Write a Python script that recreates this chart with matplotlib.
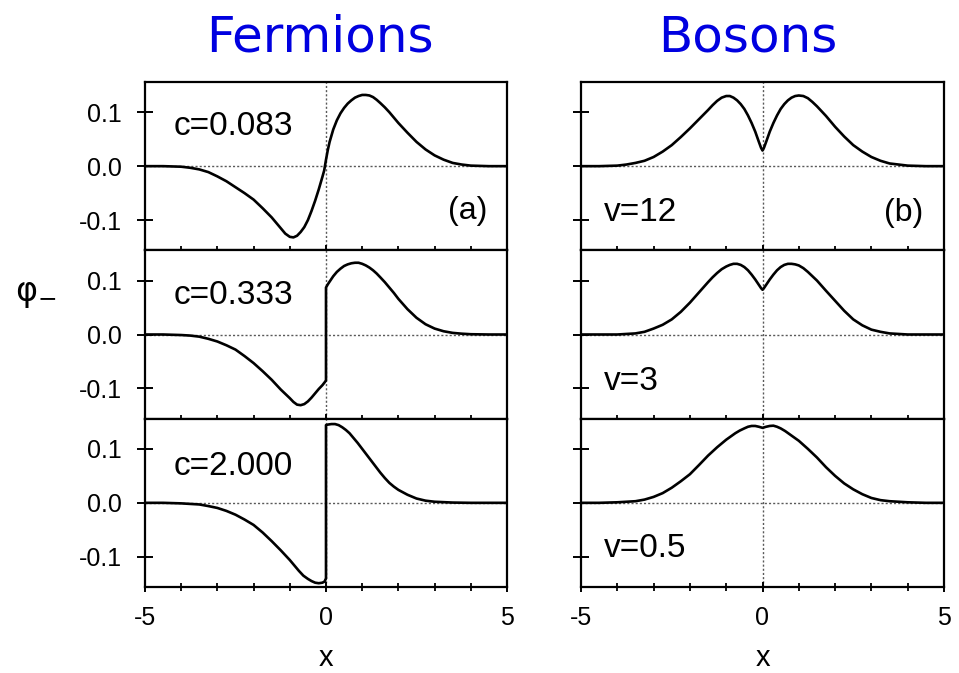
import matplotlib
matplotlib.use("Agg")
import matplotlib.pyplot as plt
from matplotlib.ticker import MultipleLocator

# ---------------- data ----------------
titles = ["Fermions", "Bosons"]
fermion_labels = ["c=0.083", "c=0.333", "c=2.000"]
boson_labels = ["v=12", "v=3", "v=0.5"]
panel_tags = ["(a)", "(b)"]
y_ticks = [-0.1, 0.0, 0.1]
y_ticklabels = ["-0.1", "0.0", "0.1"]
x_ticks = [-5, 0, 5]
x_ticklabels = ["-5", "0", "5"]

# Fermions, c = 0.083
xa = [-5, -4.5, -4, -3.75, -3.5, -3.25, -3, -2.75, -2.5, -2.25, -2, -1.75,
      -1.5, -1.375, -1.25, -1.125, -1.0, -0.9, -0.8, -0.7, -0.6, -0.5, -0.4,
      -0.3, -0.2, -0.1, -0.05, 0, 0.05, 0.1, 0.2, 0.3, 0.4, 0.5, 0.6, 0.7,
      0.8, 0.9, 1.0, 1.1, 1.2, 1.3, 1.4, 1.5, 1.625, 1.75, 1.875, 2.0, 2.25,
      2.5, 2.75, 3.0, 3.25, 3.5, 3.75, 4.0, 4.5, 5]
ya = [0, 0, -0.001, -0.003, -0.006, -0.011, -0.019, -0.028, -0.039, -0.050,
      -0.062, -0.078, -0.095, -0.105, -0.115, -0.125, -0.131, -0.132, -0.129,
      -0.122, -0.113, -0.100, -0.083, -0.064, -0.043, -0.020, -0.008, 0.012,
      0.030, 0.045, 0.068, 0.085, 0.098, 0.108, 0.116, 0.122, 0.127, 0.130,
      0.132, 0.132, 0.131, 0.128, 0.123, 0.117, 0.109, 0.100, 0.090, 0.080,
      0.062, 0.045, 0.031, 0.020, 0.012, 0.006, 0.003, 0.001, 0, 0]

# Fermions, c = 0.333
xb = [-5, -4.5, -4, -3.75, -3.5, -3.25, -3, -2.75, -2.5, -2.25, -2, -1.75,
      -1.5, -1.375, -1.25, -1.125, -1.0, -0.9, -0.8, -0.7, -0.6, -0.5, -0.4,
      -0.3, -0.2, -0.1, -0.03, 0.0, 0.0, 0.05, 0.1, 0.2, 0.3, 0.4, 0.5, 0.6,
      0.7, 0.8, 0.9, 1.0, 1.1, 1.2, 1.3, 1.4, 1.5, 1.625, 1.75, 1.875, 2.0,
      2.25, 2.5, 2.75, 3.0, 3.25, 3.5, 3.75, 4.0, 4.5, 5]
yb = [0, 0, -0.001, -0.002, -0.004, -0.008, -0.013, -0.020, -0.028, -0.040,
      -0.053, -0.068, -0.084, -0.093, -0.102, -0.110, -0.118, -0.125, -0.130,
      -0.131, -0.129, -0.124, -0.117, -0.109, -0.101, -0.094, -0.088, -0.085,
      0.087, 0.093, 0.098, 0.108, 0.116, 0.122, 0.127, 0.130, 0.132, 0.133,
      0.133, 0.131, 0.128, 0.124, 0.119, 0.113, 0.106, 0.097, 0.087, 0.077,
      0.066, 0.047, 0.031, 0.019, 0.011, 0.006, 0.003, 0.0015, 0.0005, 0, 0]

# Fermions, c = 2.000
xc = [-5, -4.5, -4, -3.75, -3.5, -3.25, -3, -2.75, -2.5, -2.25, -2, -1.75,
      -1.5, -1.25, -1.0, -0.875, -0.75, -0.625, -0.5, -0.4, -0.3, -0.2, -0.1,
      -0.04, 0.0, 0.0, 0.05, 0.15, 0.25, 0.35, 0.45, 0.55, 0.65, 0.75, 0.875,
      1.0, 1.125, 1.25, 1.375, 1.5, 1.625, 1.75, 1.875, 2.0, 2.25, 2.5, 2.75,
      3.0, 3.5, 4.0, 5]
yc = [0, 0, -0.001, -0.002, -0.003, -0.006, -0.0095, -0.015, -0.022, -0.031,
      -0.041, -0.055, -0.071, -0.088, -0.106, -0.116, -0.126, -0.135, -0.141,
      -0.145, -0.148, -0.149, -0.148, -0.146, -0.140, 0.144, 0.145, 0.146,
      0.146, 0.144, 0.140, 0.135, 0.129, 0.121, 0.111, 0.100, 0.089, 0.078,
      0.067, 0.056, 0.046, 0.037, 0.030, 0.024, 0.015, 0.008, 0.004, 0.002,
      0.0005, 0, 0]

# Bosons, v = 12
xd = [-5, -4.5, -4, -3.75, -3.5, -3.25, -3, -2.75, -2.5, -2.25, -2, -1.75,
      -1.5, -1.375, -1.25, -1.125, -1.0, -0.9, -0.8, -0.7, -0.6, -0.5, -0.4,
      -0.3, -0.2, -0.1, -0.04, 0, 0.04, 0.1, 0.2, 0.3, 0.4, 0.5, 0.6, 0.7,
      0.8, 0.9, 1.0, 1.125, 1.25, 1.375, 1.5, 1.75, 2.0, 2.25, 2.5, 2.75, 3.0,
      3.25, 3.5, 3.75, 4.0, 4.5, 5]
yd = [0, 0, 0.001, 0.003, 0.006, 0.010, 0.017, 0.027, 0.039, 0.054, 0.070,
      0.087, 0.104, 0.113, 0.121, 0.127, 0.130, 0.130, 0.127, 0.122, 0.115,
      0.106, 0.094, 0.080, 0.064, 0.045, 0.034, 0.029, 0.034, 0.045, 0.064,
      0.080, 0.094, 0.106, 0.115, 0.122, 0.127, 0.130, 0.131, 0.130, 0.126,
      0.119, 0.111, 0.093, 0.073, 0.055, 0.039, 0.027, 0.017, 0.010, 0.005,
      0.003, 0.001, 0, 0]

# Bosons, v = 3
xe = [-5, -4.5, -4, -3.75, -3.5, -3.25, -3, -2.75, -2.5, -2.25, -2, -1.75,
      -1.5, -1.375, -1.25, -1.125, -1.0, -0.9, -0.8, -0.7, -0.6, -0.5, -0.4,
      -0.3, -0.2, -0.1, -0.04, 0, 0.04, 0.1, 0.2, 0.3, 0.4, 0.5, 0.6, 0.7,
      0.8, 0.9, 1.0, 1.125, 1.25, 1.375, 1.5, 1.75, 2.0, 2.25, 2.5, 2.75, 3.0,
      3.25, 3.5, 3.75, 4.0, 4.5, 5]
ye = [0, 0, 0, 0.001, 0.002, 0.005, 0.011, 0.018, 0.028, 0.042, 0.059, 0.078,
      0.097, 0.106, 0.114, 0.121, 0.126, 0.129, 0.131, 0.131, 0.129, 0.125,
      0.119, 0.111, 0.102, 0.092, 0.086, 0.083, 0.086, 0.092, 0.102, 0.111,
      0.119, 0.125, 0.129, 0.131, 0.131, 0.130, 0.128, 0.123, 0.116, 0.108,
      0.100, 0.081, 0.0625, 0.044, 0.028, 0.017, 0.009, 0.005, 0.002, 0.001,
      0, 0, 0]

# Bosons, v = 0.5
xf = [-5, -4.5, -4, -3.75, -3.5, -3.25, -3, -2.75, -2.5, -2.25, -2, -1.75,
      -1.5, -1.25, -1.0, -0.875, -0.75, -0.625, -0.5, -0.4, -0.3, -0.2, -0.1,
      0, 0.1, 0.2, 0.3, 0.4, 0.5, 0.625, 0.75, 0.875, 1.0, 1.25, 1.5, 1.75,
      2.0, 2.25, 2.5, 2.75, 3.0, 3.25, 3.5, 3.75, 4.0, 4.5, 5]
yf = [0, 0, 0.001, 0.002, 0.003, 0.006, 0.011, 0.018, 0.028, 0.040, 0.053,
      0.070, 0.0875, 0.103, 0.117, 0.123, 0.129, 0.134, 0.138, 0.141, 0.1425,
      0.1425, 0.141, 0.139, 0.141, 0.1425, 0.143, 0.141, 0.138, 0.133, 0.127,
      0.121, 0.115, 0.100, 0.084, 0.066, 0.050, 0.036, 0.025, 0.016, 0.009,
      0.005, 0.003, 0.002, 0.001, 0, 0]

fermion_curves = [(xa, ya), (xb, yb), (xc, yc)]
boson_curves = [(xd, yd), (xe, ye), (xf, yf)]

# ---------------- figure ----------------
W, H = 959, 673
fig = plt.figure(figsize=(W / 100, H / 100), dpi=100)
fig.patch.set_facecolor("white")

tick_font = "Liberation Sans"
top_px, bot_px = 82, 587
ph = (bot_px - top_px) / 3.0
col_left = [145, 581]
col_width = [362, 363]

ylim = (-0.156, 0.156)


def style_axes(ax, is_bottom, show_ylabels):
    ax.set_xlim(-5, 5)
    ax.set_ylim(*ylim)
    for s in ax.spines.values():
        s.set_linewidth(1.6)
        s.set_color("black")
    ax.axhline(0, color="0.35", lw=1.0, ls=(0, (1.5, 1.5)), zorder=1)
    ax.axvline(0, color="0.35", lw=1.0, ls=(0, (1.5, 1.5)), zorder=1)
    ax.set_yticks(y_ticks)
    if show_ylabels:
        ax.set_yticklabels(y_ticklabels, fontfamily=tick_font, fontsize=18)
    else:
        ax.set_yticklabels([])
    ax.tick_params(axis="y", direction="inout", length=11, width=1.4,
                   pad=11, left=True, right=False)
    ax.set_xticks(x_ticks)
    ax.xaxis.set_minor_locator(MultipleLocator(1))
    ax.tick_params(axis="x", which="major", direction="inout", length=7,
                   width=1.4, pad=10)
    ax.tick_params(axis="x", which="minor", direction="inout", length=6,
                   width=1.3)
    if is_bottom:
        ax.set_xticklabels(x_ticklabels, fontfamily=tick_font, fontsize=18)
    else:
        ax.set_xticklabels([])


for col in range(2):
    curves = fermion_curves if col == 0 else boson_curves
    labels = fermion_labels if col == 0 else boson_labels
    for row in range(3):
        y_top = top_px + row * ph
        rect = [col_left[col] / W, 1 - (y_top + ph) / H,
                col_width[col] / W, ph / H]
        ax = fig.add_axes(rect)
        style_axes(ax, row == 2, col == 0)
        xs, ys = curves[row]
        ax.plot(xs, ys, color="black", lw=1.9, zorder=3,
                solid_joinstyle="round", solid_capstyle="round")
        if col == 0:
            ly = [0.074, 0.072, 0.067][row]
            ax.text(-4.2, ly, labels[row], fontfamily=tick_font, fontsize=24,
                    ha="left", va="center")
            if row == 0:
                ax.text(4.45, -0.083, panel_tags[0], fontfamily=tick_font,
                        fontsize=23, ha="right", va="center")
        else:
            ly = [-0.086, -0.088, -0.085][row]
            ax.text(-4.37, ly, labels[row], fontfamily=tick_font, fontsize=24,
                    ha="left", va="center")
            if row == 0:
                ax.text(4.42, -0.086, panel_tags[1], fontfamily=tick_font,
                        fontsize=23, ha="right", va="center")

# titles
fig.text(320 / W, 1 - 52 / H, titles[0], color="#0000E0", fontsize=36,
         fontfamily="DejaVu Sans", ha="center", va="baseline")
fig.text(748 / W, 1 - 52 / H, titles[1], color="#0000E0", fontsize=36,
         fontfamily="DejaVu Sans", ha="center", va="baseline")

# axis labels
fig.text(36 / W, 1 - 294 / H, "φ$_{-}$", fontsize=24, ha="center",
         va="center", fontfamily="DejaVu Sans")
fig.text(326 / W, 1 - 666 / H, "x", fontsize=21, fontfamily=tick_font,
         ha="center", va="baseline")
fig.text(763 / W, 1 - 666 / H, "x", fontsize=21, fontfamily=tick_font,
         ha="center", va="baseline")

fig.savefig("out.png", dpi=100)
